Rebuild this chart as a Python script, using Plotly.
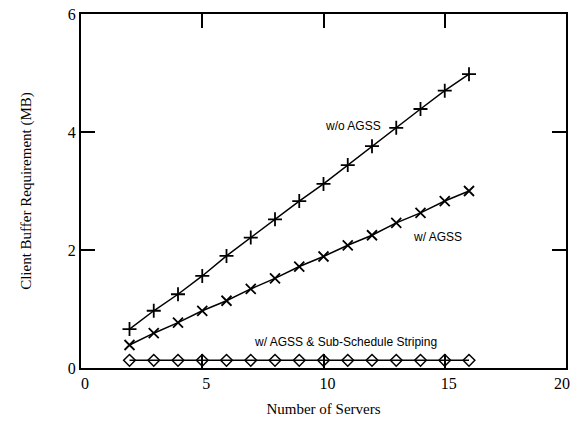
import plotly.graph_objects as go

servers = [2, 3, 4, 5, 6, 7, 8, 9, 10, 11, 12, 13, 14, 15, 16]
wo_agss = [0.66, 0.97, 1.25, 1.56, 1.90, 2.21, 2.52, 2.83, 3.12, 3.44, 3.76, 4.07, 4.39, 4.70, 4.98]
w_agss = [0.39, 0.59, 0.77, 0.97, 1.14, 1.34, 1.52, 1.72, 1.89, 2.08, 2.25, 2.46, 2.63, 2.83, 3.00]
w_agss_striping = [0.13] * 15

x_ticks = [0, 5, 10, 15, 20]
x_tick_labels = ["0", "5", "10", "15", "20"]
y_ticks = [0, 2, 4, 6]

fig = go.Figure()
line = dict(color="black", width=1.5)
fig.add_trace(go.Scatter(x=servers, y=wo_agss, mode="lines+markers", line=line,
                         marker=dict(symbol="cross-thin", size=10, color="black",
                                     line=dict(color="black", width=1.8))))
fig.add_trace(go.Scatter(x=servers, y=w_agss, mode="lines+markers", line=line,
                         marker=dict(symbol="x-thin", size=10, color="black",
                                     line=dict(color="black", width=1.8))))
fig.add_trace(go.Scatter(x=servers, y=w_agss_striping, mode="lines+markers", line=line,
                         marker=dict(symbol="diamond-open", size=9, color="black",
                                     line=dict(color="black", width=1.5))))

labels = [("w/o AGSS", 11.2, 4.10), ("w/ AGSS", 14.7, 2.22),
          ("w/ AGSS & Sub-Schedule Striping", 10.9, 0.44)]
for t, x, y in labels:
    fig.add_annotation(x=x, y=y, text=t, showarrow=False,
                       font=dict(family="Liberation Sans, Arial, sans-serif", size=12, color="black"))

axis_common = dict(showline=True, linecolor="black", linewidth=2, mirror="ticks",
                   ticks="inside", ticklen=14, tickwidth=1.5, tickcolor="black",
                   showgrid=False, zeroline=False, automargin=False,
                   ticklabeloverflow="allow",
                   tickfont=dict(family="Liberation Serif, Times New Roman, serif", size=16, color="black"))

# pad the last label so it stays inside the page, as in the reference
x_tick_text = x_tick_labels[:-1] + [x_tick_labels[-1] + "\u2007\u2007"]

fig.update_xaxes(range=[0, 20], tickvals=x_ticks, ticktext=x_tick_text, ticklabelshift=4,
                 title=dict(text="Number of Servers", standoff=12,
                            font=dict(family="Liberation Serif, Times New Roman, serif", size=15, color="black")),
                 **axis_common)
fig.update_yaxes(range=[0, 6], tickvals=y_ticks,
                 title=dict(text="Client Buffer Requirement (MB)", standoff=33,
                            font=dict(family="Liberation Serif, Times New Roman, serif", size=15, color="black")),
                 **axis_common)

fig.update_layout(width=571, height=423, margin=dict(l=81, r=5, t=14, b=55, autoexpand=False),
                  plot_bgcolor="white", paper_bgcolor="white", showlegend=False)

fig.write_html("out.html", config={"displayModeBar": False},
               post_script="document.body.style.margin='0';document.body.style.overflow='hidden';")
